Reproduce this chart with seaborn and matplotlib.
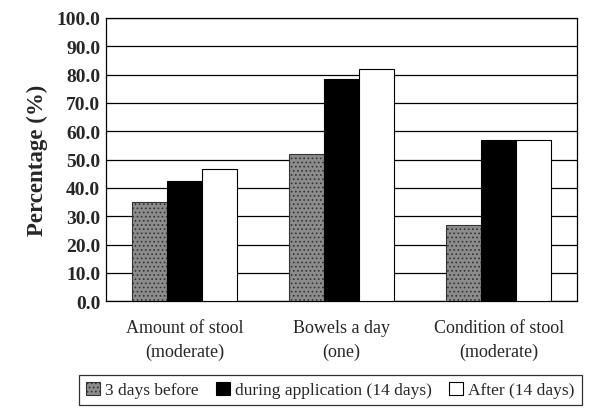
import matplotlib
matplotlib.use("Agg")
import matplotlib.pyplot as plt
import seaborn as sns
import pandas as pd

categories = ["Amount of stool\n(moderate)", "Bowels a day\n(one)", "Condition of stool\n(moderate)"]
series_names = ["3 days before", "during application (14 days)", "After (14 days)"]
before = [35.0, 52.0, 27.0]
during = [42.5, 78.4, 57.0]
after = [46.8, 82.0, 57.0]
yticks = [0, 10, 20, 30, 40, 50, 60, 70, 80, 90, 100]

rows = []
for name, vals in zip(series_names, [before, during, after]):
    for c, v in zip(categories, vals):
        rows.append({"Category": c, "Series": name, "Value": v})
df = pd.DataFrame(rows)

sns.set_theme(style="white")
plt.rcParams["font.family"] = ["Liberation Serif", "DejaVu Serif"]
plt.rcParams["hatch.linewidth"] = 0.7

fig = plt.figure(figsize=(5.95, 4.10), dpi=100)
ax = fig.add_axes([0.178, 0.263, 0.792, 0.691])

gray = "#8c8c8c"
palette = {series_names[0]: gray, series_names[1]: "#000000", series_names[2]: "#ffffff"}
sns.barplot(data=df, x="Category", y="Value", hue="Series", order=categories,
            hue_order=series_names, palette=palette, width=0.67, gap=0,
            edgecolor="black", linewidth=0.8, saturation=1, ax=ax, legend=False,
            zorder=3)

# texture for the first series
for bar in ax.patches[:3]:
    bar.set_hatch("....")
    bar.set_edgecolor("#333333")

ax.set_ylim(0, 100)
ax.set_xlim(-0.5, 2.5)
ax.set_yticks(yticks)
ax.set_yticklabels([f"{v:.1f}" for v in yticks], fontsize=14, fontweight="bold")
ax.yaxis.grid(True, color="black", linewidth=0.9, zorder=0)
ax.set_axisbelow(True)
ax.tick_params(axis="both", length=0, pad=4)
ax.set_xticks(range(3))
ax.set_xticklabels(categories, fontsize=13, linespacing=1.5)
ax.tick_params(axis="x", pad=13)
ax.set_xlabel("")
ax.set_ylabel("Percentage (%)", fontsize=16.5, fontweight="bold", labelpad=6)
for s in ax.spines.values():
    s.set_color("black")
    s.set_linewidth(0.9)

from matplotlib.patches import Patch
handles = [Patch(facecolor=gray, edgecolor="#333333", hatch="....", linewidth=0.8),
           Patch(facecolor="black", edgecolor="black", linewidth=0.8),
           Patch(facecolor="white", edgecolor="black", linewidth=0.8)]
leg = fig.legend(handles, series_names, loc="center", bbox_to_anchor=(0.555, 0.046),
                 ncol=3, fontsize=12.5, frameon=True, fancybox=False, edgecolor="black",
                 handlelength=0.8, handleheight=0.8, handletextpad=0.3,
                 columnspacing=1.0, borderpad=0.4)
leg.get_frame().set_linewidth(0.9)

fig.savefig("out.png", dpi=100)
